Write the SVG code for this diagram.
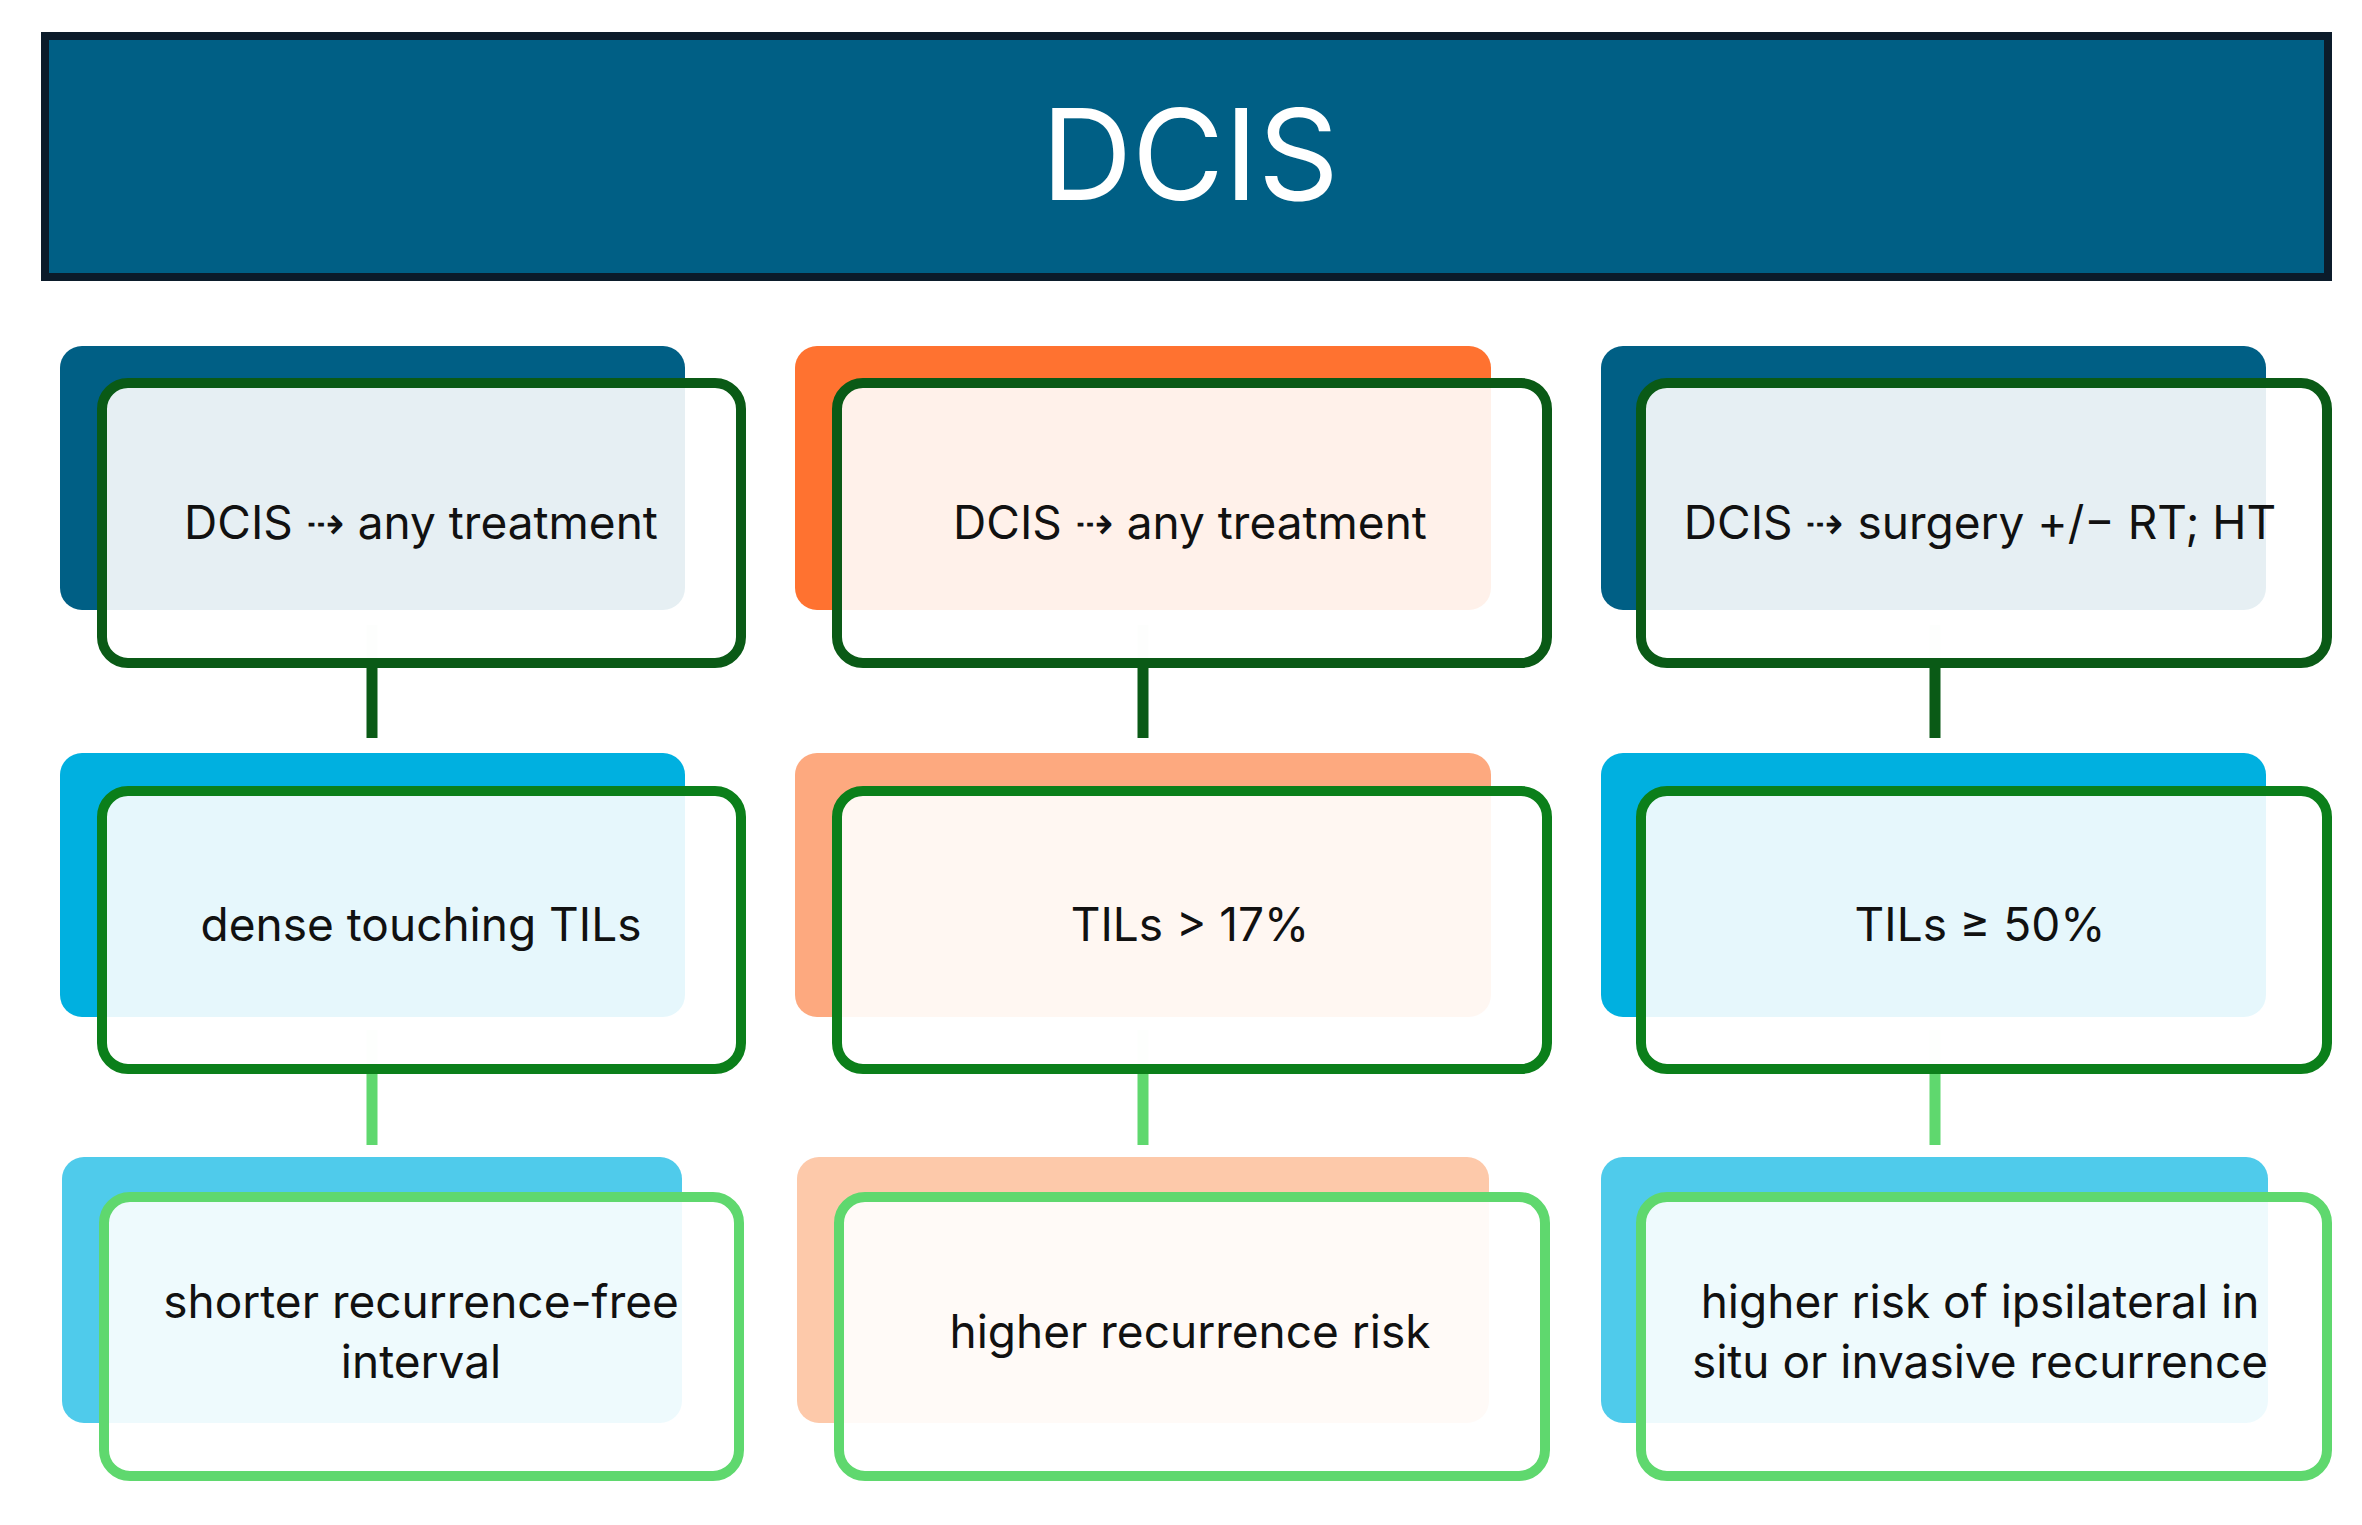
<svg xmlns="http://www.w3.org/2000/svg" width="2362" height="1525" viewBox="0 0 2362 1525">
<style>
.t{font-family:Inter,"Liberation Sans",sans-serif;font-size:46px;fill:#111;text-anchor:middle}
.f{fill:#fff;fill-opacity:0.9;stroke-width:10}
.r1{stroke:#0a5a16}.r2{stroke:#0b7f1a}.r3{stroke:#5fd86e}
</style>
<rect width="2362" height="1525" fill="#fff"/>
<g id="title">
<rect x="45" y="36" width="2283" height="241" fill="#005f85" stroke="#0b1b2a" stroke-width="8"/>
<text x="1190" y="200" font-family="Inter,'Liberation Sans',sans-serif" font-size="126" fill="#fff" text-anchor="middle">DCIS</text>
</g>
<g id="connectors">
<g stroke-width="11">
<path d="M372 625V663M1143 625V663M1935 625V663" stroke="#e5efe8"/>
<path d="M372 663V738M1143 663V738M1935 663V738" stroke="#0a5a16"/>
<path d="M372 1030V1069M1143 1030V1069M1935 1030V1069" stroke="#eaf8ec"/>
<path d="M372 1069V1145M1143 1069V1145M1935 1069V1145" stroke="#5fd86e"/>
</g>
</g>
<g id="c1r1"><rect x="60" y="346" width="625" height="264" rx="22" fill="#005f85"/><rect class="f r1" x="102" y="383" width="639" height="280" rx="26"/><text class="t" x="421" y="539">DCIS  ⇢ any treatment</text></g>
<g id="c2r1"><rect x="795" y="346" width="696" height="264" rx="22" fill="#ff7230"/><rect class="f r1" x="837" y="383" width="710" height="280" rx="26"/><text class="t" x="1190" y="539">DCIS  ⇢ any treatment</text></g>
<g id="c3r1"><rect x="1601" y="346" width="665" height="264" rx="22" fill="#005f85"/><rect class="f r1" x="1641" y="383" width="686" height="280" rx="26"/><text class="t" x="1980" y="539">DCIS ⇢ surgery +/− RT; HT</text></g>
<g id="c1r2"><rect x="60" y="753" width="625" height="264" rx="22" fill="#00b0e0"/><rect class="f r2" x="102" y="791" width="639" height="278" rx="26"/><text class="t" x="421" y="941">dense touching TILs</text></g>
<g id="c2r2"><rect x="795" y="753" width="696" height="264" rx="22" fill="#fda97f"/><rect class="f r2" x="837" y="791" width="710" height="278" rx="26"/><text class="t" x="1190" y="941">TILs &gt; 17%</text></g>
<g id="c3r2"><rect x="1601" y="753" width="665" height="264" rx="22" fill="#00b0e0"/><rect class="f r2" x="1641" y="791" width="686" height="278" rx="26"/><text class="t" x="1980" y="941">TILs ≥ 50%</text></g>
<g id="c1r3"><rect x="62" y="1157" width="620" height="266" rx="22" fill="#4fcbeb"/><rect class="f r3" x="104" y="1197" width="635" height="279" rx="26"/><text class="t" x="421" y="1318">shorter recurrence-free</text><text class="t" x="421" y="1378">interval</text></g>
<g id="c2r3"><rect x="797" y="1157" width="692" height="266" rx="22" fill="#fdc9aa"/><rect class="f r3" x="839" y="1197" width="706" height="279" rx="26"/><text class="t" x="1190" y="1348">higher recurrence risk</text></g>
<g id="c3r3"><rect x="1601" y="1157" width="667" height="266" rx="22" fill="#4fcbeb"/><rect class="f r3" x="1641" y="1197" width="686" height="279" rx="26"/><text class="t" x="1980" y="1318">higher risk of ipsilateral in</text><text class="t" x="1980" y="1378">situ or invasive recurrence</text></g>
</svg>
